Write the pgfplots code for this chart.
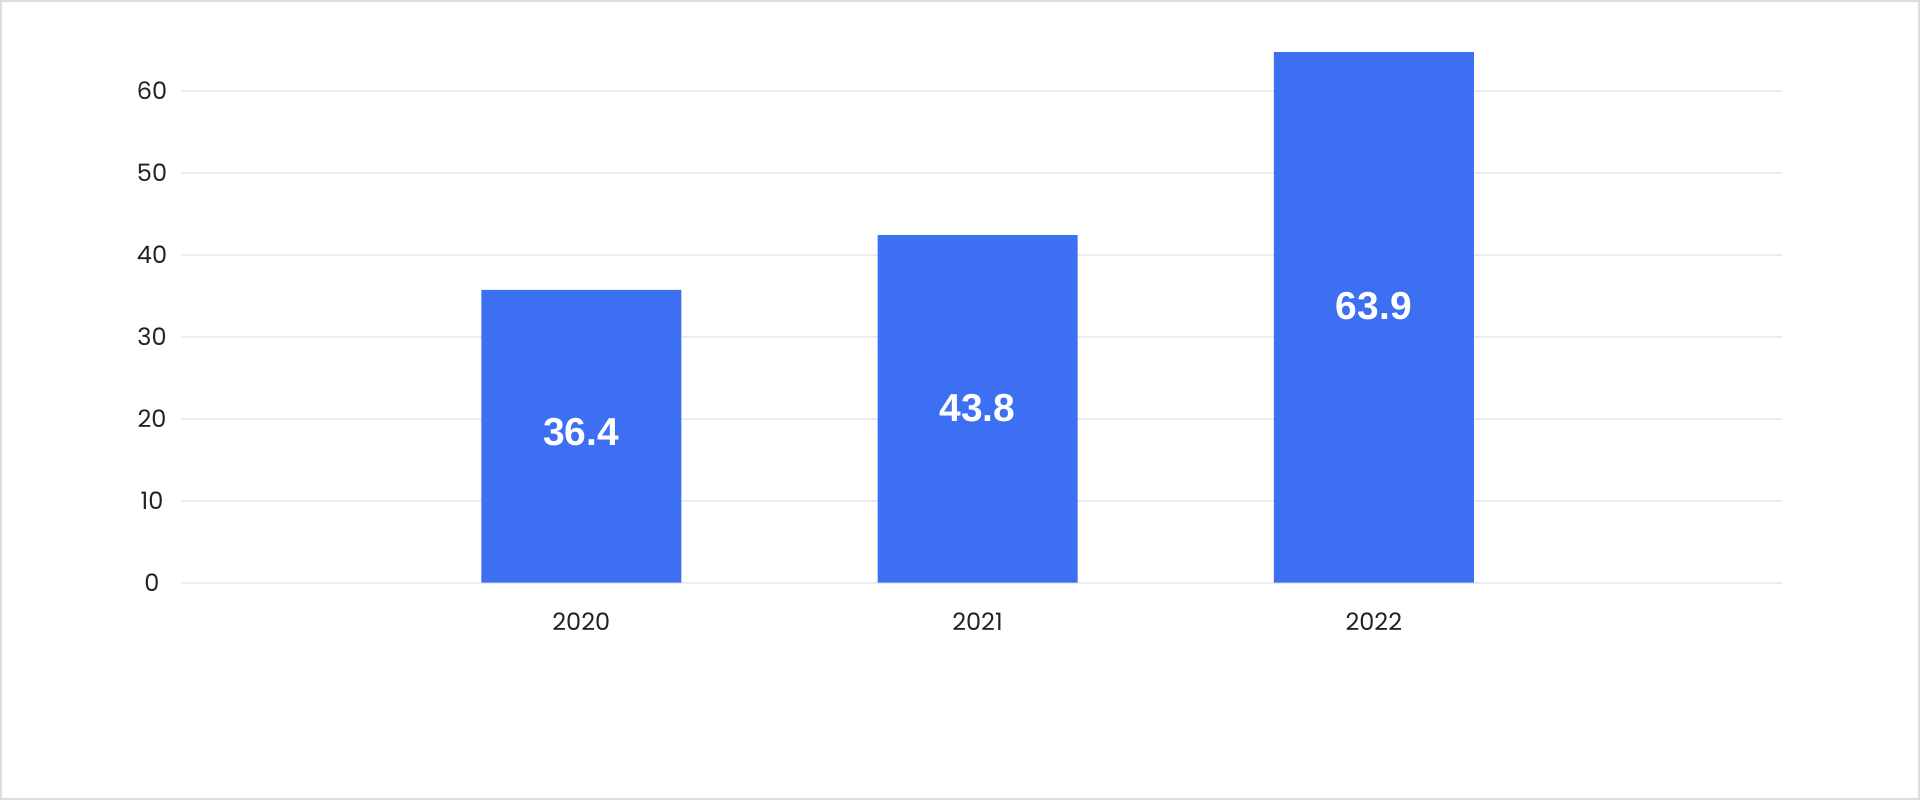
\documentclass[border=0pt]{standalone}
\usepackage{pgfplots}
\pgfplotsset{compat=1.18}
\usepackage{fontspec}
\setmainfont{Poppins}
\newfontfamily\labfont{Liberation Sans}
\definecolor{barblue}{HTML}{3C6FF1}
\definecolor{gridc}{HTML}{E8ECF5}
\definecolor{framec}{HTML}{DEDEDE}
\definecolor{tickc}{HTML}{222222}
\begin{document}
\begin{tikzpicture}
\begin{axis}[
  name=ax,
  scale only axis,
  width=800.5pt, height=270.6pt,
  xmin=-1.01, xmax=3.03,
  ymin=0, ymax=66,
  xtick={0,1,2},
  xticklabels={2020,2021,2022},
  ytick={0,10,20,30,40,50,60},
  axis line style={draw=none},
  major tick length=0pt,
  ymajorgrids,
  grid style={gridc, line width=1pt},
  tick label style={font=\fontsize{12}{14}\selectfont, text=tickc},
  yticklabel style={anchor=center, xshift=-14.5pt},
  xticklabel style={anchor=center, yshift=-19.6pt},
  /pgf/number format/assume math mode=true,
  clip=false,
]
\addplot[ybar, bar width=100pt, fill=barblue, draw=none]
  coordinates {(0,35.7) (1,42.4) (2,64.7)};
\addplot[draw=none, mark=none,
  nodes near coords, point meta=explicit symbolic,
  every node near coord/.style={anchor=center, text=white,
    font=\labfont\fontsize{19.5}{23}\selectfont\bfseries}]
  coordinates {(0,18.4)[36.4] (1,21.3)[43.8] (2,33.7)[63.9]};
\end{axis}
\useasboundingbox ([xshift=-90.5pt, yshift=-108.65pt]ax.south west) rectangle ([xshift=869.5pt, yshift=291.35pt]ax.south west);
\draw[framec, line width=1.2pt] ([xshift=-89.9pt, yshift=-108.05pt]ax.south west) rectangle ([xshift=868.9pt, yshift=290.75pt]ax.south west);
\end{tikzpicture}
\end{document}
